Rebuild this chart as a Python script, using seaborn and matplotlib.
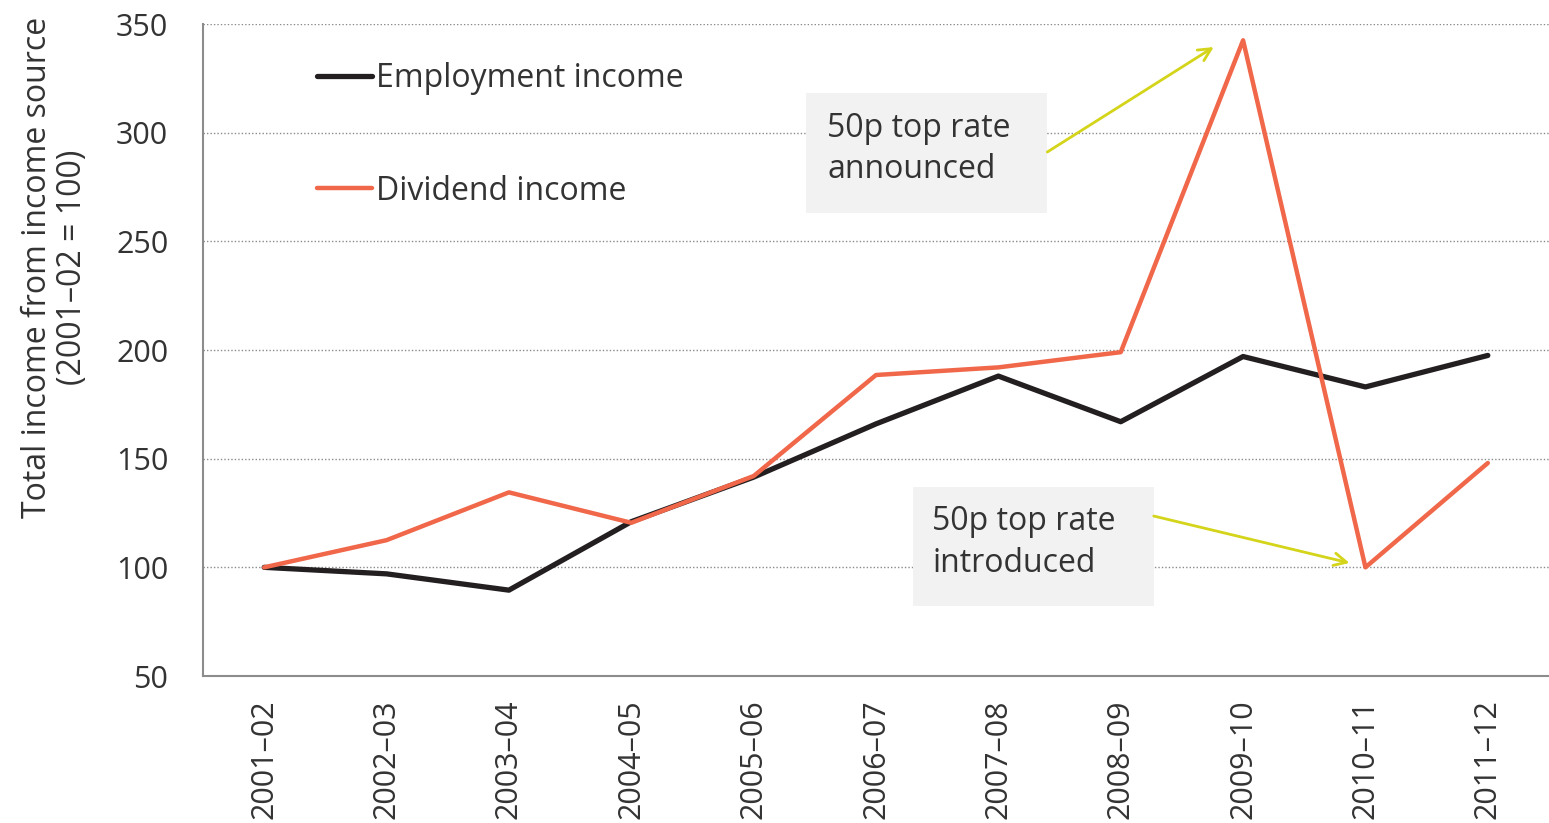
import matplotlib
matplotlib.use('Agg')
import matplotlib.pyplot as plt
import seaborn as sns
import pandas as pd
import numpy as np
from matplotlib.patches import Rectangle

# index values, 2001-02 = 100
years = ['2001–02', '2002–03', '2003–04', '2004–05', '2005–06', '2006–07',
         '2007–08', '2008–09', '2009–10', '2010–11', '2011–12']
employment = [100, 97, 89.5, 121, 141.5, 166, 188, 167, 197, 183, 197.5]
dividend = [100, 112.5, 134.5, 120.5, 142, 188.5, 192, 199, 342.5, 100, 148]
y_ticks = [50, 100, 150, 200, 250, 300, 350]

df = pd.DataFrame({'year': years, 'employment': employment, 'dividend': dividend})

sns.set_style('white')
plt.rcParams['font.family'] = ['Open Sans', 'DejaVu Sans']

text_col = '#333333'
axis_col = '#8c8c8c'
arrow_col = '#d4d41a'

fig = plt.figure(figsize=(15.49, 8.23), dpi=100)
ax = fig.add_axes([203/1549, 147/823, 1346/1549, 652/823])

sns.lineplot(data=df, x='year', y='employment', color='#231f20', linewidth=3.8,
             label='Employment income', ax=ax, sort=False)
sns.lineplot(data=df, x='year', y='dividend', color='#f0674a', linewidth=3.2,
             label='Dividend income', ax=ax, sort=False)

ax.set_xlim(-0.5, len(years) - 0.5)
ax.set_ylim(y_ticks[0], y_ticks[-1])
ax.set_yticks(y_ticks)
ax.set_xticks(np.arange(len(years)))
ax.set_xticklabels(years, rotation=90)
ax.set_xticks(np.arange(-0.5, len(years), 1), minor=True)

ax.tick_params(axis='x', which='major', length=0, pad=17, labelsize=22, labelcolor=text_col)
ax.tick_params(axis='x', which='minor', length=7, width=1.5, color=axis_col)
ax.tick_params(axis='y', length=8, width=1.5, color=axis_col, pad=17, labelsize=22, labelcolor=text_col)

ax.yaxis.grid(True, linestyle=(0, (1, 1.5)), color='#8a8a8a', linewidth=1)
ax.xaxis.grid(False)
ax.set_axisbelow(True)
sns.despine(ax=ax)
for s in ['left', 'bottom']:
    ax.spines[s].set_color(axis_col)
    ax.spines[s].set_linewidth(1.5)

ax.set_xlabel('')
ax.set_ylabel('Total income from income source\n(2001–02 = 100)', fontsize=23,
              color=text_col, linespacing=1.05)
ax.yaxis.set_label_coords(-0.085, 0.627)

ax.legend(loc='upper left', bbox_to_anchor=(0.085, 0.942), frameon=False, fontsize=23,
          handlelength=1.7, handletextpad=0.12, labelspacing=2.5, borderpad=0,
          borderaxespad=0, labelcolor=text_col)

# annotation boxes
ax.add_patch(Rectangle((4.43, 263.0), 1.97, 55.2, facecolor='#f2f2f2', edgecolor='none', zorder=3))
ax.text(4.60, 292.5, '50p top rate\nannounced', va='center', ha='left', fontsize=23,
        color=text_col, linespacing=1.35, zorder=4)
ax.annotate('', xy=(7.76, 339.4), xytext=(6.40, 291.1),
            arrowprops=dict(arrowstyle='->,head_length=0.9,head_width=0.45', color=arrow_col,
                            lw=2.0, shrinkA=0, shrinkB=0), zorder=4)

ax.add_patch(Rectangle((5.30, 82.2), 1.97, 54.8, facecolor='#f2f2f2', edgecolor='none', zorder=3))
ax.text(5.46, 111.5, '50p top rate\nintroduced', va='center', ha='left', fontsize=23,
        color=text_col, linespacing=1.35, zorder=4)
ax.annotate('', xy=(8.87, 102), xytext=(7.27, 123.6),
            arrowprops=dict(arrowstyle='->,head_length=0.9,head_width=0.45', color=arrow_col,
                            lw=2.0, shrinkA=0, shrinkB=0), zorder=4)

fig.savefig('out.png', dpi=100)
